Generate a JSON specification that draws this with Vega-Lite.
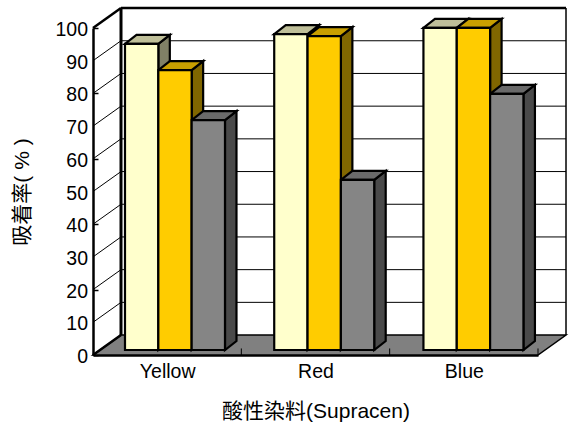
{
  "$schema": "https://vega.github.io/schema/vega-lite/v6.json",
  "width": 445,
  "height": 327,
  "padding": {"left": 93, "top": 28, "right": 33, "bottom": 69},
  "autosize": "none",
  "background": "white",
  "config": {"view": {"stroke": null}, "font": "Liberation Sans"},
  "datasets": {
    "bars": [
      {"dye": "Yellow", "series": "A", "value": 93.6},
      {"dye": "Yellow", "series": "B", "value": 85.6},
      {"dye": "Yellow", "series": "C", "value": 70.3},
      {"dye": "Red", "series": "A", "value": 96.6},
      {"dye": "Red", "series": "B", "value": 96.0},
      {"dye": "Red", "series": "C", "value": 52.0},
      {"dye": "Blue", "series": "A", "value": 98.5},
      {"dye": "Blue", "series": "B", "value": 98.5},
      {"dye": "Blue", "series": "C", "value": 78.3}
    ],
    "levels": [
      {"level": 10}, {"level": 20}, {"level": 30}, {"level": 40}, {"level": 50},
      {"level": 60}, {"level": 70}, {"level": 80}, {"level": 90}, {"level": 100}
    ],
    "scaleLabels": [
      {"level": 0}, {"level": 10}, {"level": 20}, {"level": 30}, {"level": 40}, {"level": 50},
      {"level": 60}, {"level": 70}, {"level": 80}, {"level": 90}, {"level": 100}
    ],
    "floor": [{"depth": 0}, {"depth": 1}],
    "groups": [{"edge": 1}, {"edge": 2}, {"edge": 3}],
    "single": [{"level": 0}]
  },
  "layer": [
    {
      "description": "Floor of the box",
      "data": {"name": "floor"},
      "transform": [
        {"calculate": "datum.depth * 0.1888", "as": "x0"},
        {"calculate": "3 + datum.depth * 0.1888", "as": "x1"},
        {"calculate": "datum.depth * 6.1", "as": "yy"}
      ],
      "mark": {"type": "area", "orient": "horizontal", "fill": "#808080", "stroke": "black", "strokeWidth": 1.5},
      "encoding": {
        "y": {"field": "yy", "type": "quantitative", "scale": {"domain": [0, 100], "nice": false, "zero": false},
          "axis": {
            "values": [0, 10, 20, 30, 40, 50, 60, 70, 80, 90, 100],
            "labels": false,
            "title": "吸着率( % )",
            "titleFont": "Liberation Sans, Noto Sans CJK TC",
            "titleFontSize": 21,
            "titleFontWeight": "normal",
            "titleColor": "#000000",
            "titlePadding": 60,
            "grid": false,
            "tickSize": -5,
            "tickColor": "#000000",
            "tickWidth": 1.5,
            "domainColor": "#000000",
            "domainWidth": 2.5
          }
        },
        "x": {"field": "x0", "type": "quantitative", "scale": {"domain": [0, 3], "nice": false, "zero": false},
          "axis": {
            "values": [0.5, 1.5, 2.5],
            "labelExpr": "datum.value < 1 ? 'Yellow' : datum.value < 2 ? 'Red' : 'Blue'",
            "title": "酸性染料(Supracen)",
            "titleFont": "Liberation Sans, Noto Sans CJK TC",
            "titleFontSize": 21,
            "titleFontWeight": "normal",
            "titleColor": "#000000",
            "titlePadding": 20,
            "labelFont": "Liberation Sans",
            "labelFontSize": 19.5,
            "labelColor": "#000000",
            "labelPadding": 7,
            "grid": false,
            "tickSize": 0,
            "domainColor": "#000000",
            "domainWidth": 2.5
          }
        },
        "x2": {"field": "x1"}
      }
    },
    {
      "description": "Scale numbers beside the front-left edge",
      "data": {"name": "scaleLabels"},
      "mark": {"type": "text", "align": "right", "baseline": "middle", "dx": -5, "dy": 2, "font": "Liberation Sans", "fontSize": 19.5, "fill": "#000000"},
      "encoding": {
        "x": {"datum": 0, "type": "quantitative"},
        "y": {"field": "level", "type": "quantitative"},
        "text": {"field": "level", "type": "quantitative"}
      }
    },
    {
      "description": "Horizontal grid lines on the back wall",
      "data": {"name": "levels"},
      "transform": [
        {"calculate": "datum.level + 6.1", "as": "yBack"}
      ],
      "mark": {"type": "rule", "stroke": "black", "strokeWidth": 1},
      "encoding": {
        "x": {"datum": 0.1888, "type": "quantitative"},
        "x2": {"datum": 3.1888},
        "y": {"field": "yBack", "type": "quantitative"}
      }
    },
    {
      "description": "Diagonal grid lines on the left wall",
      "data": {"name": "levels"},
      "transform": [
        {"calculate": "datum.level + 6.1", "as": "yBack"}
      ],
      "mark": {"type": "rule", "stroke": "black", "strokeWidth": 1},
      "encoding": {
        "x": {"datum": 0, "type": "quantitative"},
        "x2": {"datum": 0.1888},
        "y": {"field": "level", "type": "quantitative"},
        "y2": {"field": "yBack"}
      }
    },
    {
      "description": "Top edge of the left wall",
      "data": {"name": "single"},
      "mark": {"type": "rule", "stroke": "black", "strokeWidth": 2.5},
      "encoding": {
        "x": {"datum": 0, "type": "quantitative"},
        "x2": {"datum": 0.1888},
        "y": {"datum": 100, "type": "quantitative"},
        "y2": {"datum": 106.1}
      }
    },
    {
      "description": "Front-left diagonal of the floor",
      "data": {"name": "single"},
      "mark": {"type": "rule", "stroke": "black", "strokeWidth": 2.5},
      "encoding": {
        "x": {"datum": 0, "type": "quantitative"},
        "x2": {"datum": 0.1888},
        "y": {"datum": 0, "type": "quantitative"},
        "y2": {"datum": 6.1}
      }
    },
    {
      "description": "Back wall, left vertical edge",
      "data": {"name": "single"},
      "mark": {"type": "rule", "stroke": "black", "strokeWidth": 3},
      "encoding": {
        "x": {"datum": 0.1888, "type": "quantitative"},
        "y": {"datum": 6.1, "type": "quantitative"},
        "y2": {"datum": 106.1}
      }
    },
    {
      "description": "Back wall, right vertical edge",
      "data": {"name": "single"},
      "mark": {"type": "rule", "stroke": "black", "strokeWidth": 1.5},
      "encoding": {
        "x": {"datum": 3.1888, "type": "quantitative"},
        "y": {"datum": 6.1, "type": "quantitative"},
        "y2": {"datum": 106.1}
      }
    },
    {
      "description": "Back wall, top edge",
      "data": {"name": "single"},
      "mark": {"type": "rule", "stroke": "black", "strokeWidth": 2.5},
      "encoding": {
        "x": {"datum": 0.1888, "type": "quantitative"},
        "x2": {"datum": 3.1888},
        "y": {"datum": 106.1, "type": "quantitative"}
      }
    },
    {
      "description": "Category tick marks along the front of the floor",
      "data": {"name": "groups"},
      "mark": {"type": "rule", "stroke": "black", "strokeWidth": 1},
      "encoding": {
        "x": {"field": "edge", "type": "quantitative"},
        "y": {"datum": 0, "type": "quantitative"},
        "y2": {"datum": 2}
      }
    },
    {
      "description": "Right side faces of the bars",
      "data": {"name": "bars"},
      "transform": [
        {"calculate": "indexof(['Yellow','Red','Blue'], datum.dye) * 1.006 + 0.2157 + indexof(['A','B','C'], datum.series) * 0.2247 + 0.2247", "as": "front"},
        {"calculate": "datum.front + 0.0775", "as": "back"},
        {"fold": ["front", "back"], "as": ["edge", "px"]},
        {"calculate": "datum.value + 1.53 + (datum.edge === 'back' ? 2.75 : 0)", "as": "yTop"},
        {"calculate": "1.53 + (datum.edge === 'back' ? 2.75 : 0)", "as": "yBase"}
      ],
      "mark": {"type": "area", "orient": "vertical", "stroke": "black", "strokeWidth": 2.2, "strokeJoin": "miter"},
      "encoding": {
        "x": {"field": "px", "type": "quantitative"},
        "y": {"field": "yTop", "type": "quantitative"},
        "y2": {"field": "yBase"},
        "detail": {"field": "dye"},
        "fill": {"field": "series", "type": "nominal", "legend": null,
          "scale": {"domain": ["A", "B", "C"], "range": ["#808066", "#806600", "#4a4a4a"]}}
      }
    },
    {
      "description": "Top faces of the bars",
      "data": {"name": "bars"},
      "transform": [
        {"calculate": "indexof(['Yellow','Red','Blue'], datum.dye) * 1.006 + 0.2157 + indexof(['A','B','C'], datum.series) * 0.2247", "as": "left"},
        {"calculate": "datum.value + 1.53", "as": "front"},
        {"calculate": "datum.value + 1.53 + 2.75", "as": "back"},
        {"fold": ["front", "back"], "as": ["edge", "py"]},
        {"calculate": "datum.left + (datum.edge === 'back' ? 0.0775 : 0)", "as": "x0"},
        {"calculate": "datum.x0 + 0.2247", "as": "x1"}
      ],
      "mark": {"type": "area", "orient": "horizontal", "stroke": "black", "strokeWidth": 2.2, "strokeJoin": "miter"},
      "encoding": {
        "y": {"field": "py", "type": "quantitative"},
        "x": {"field": "x0", "type": "quantitative"},
        "x2": {"field": "x1"},
        "detail": {"field": "dye"},
        "fill": {"field": "series", "type": "nominal", "legend": null,
          "scale": {"domain": ["A", "B", "C"], "range": ["#BFBF99", "#C99F00", "#6a6a6a"]}}
      }
    },
    {
      "description": "Front faces of the bars",
      "data": {"name": "bars"},
      "transform": [
        {"calculate": "indexof(['Yellow','Red','Blue'], datum.dye) * 1.006 + 0.2157 + indexof(['A','B','C'], datum.series) * 0.2247", "as": "left"},
        {"calculate": "datum.left + 0.2247", "as": "right"},
        {"calculate": "datum.value + 1.53", "as": "top"},
        {"calculate": "1.53", "as": "base"}
      ],
      "mark": {"type": "rect", "stroke": "black", "strokeWidth": 2.2},
      "encoding": {
        "x": {"field": "left", "type": "quantitative"},
        "x2": {"field": "right"},
        "y": {"field": "top", "type": "quantitative"},
        "y2": {"field": "base"},
        "fill": {"field": "series", "type": "nominal", "legend": null,
          "scale": {"domain": ["A", "B", "C"], "range": ["#FFFFCC", "#FFCC00", "#858585"]}}
      }
    }
  ],
  "resolve": {"scale": {"fill": "independent"}}
}
